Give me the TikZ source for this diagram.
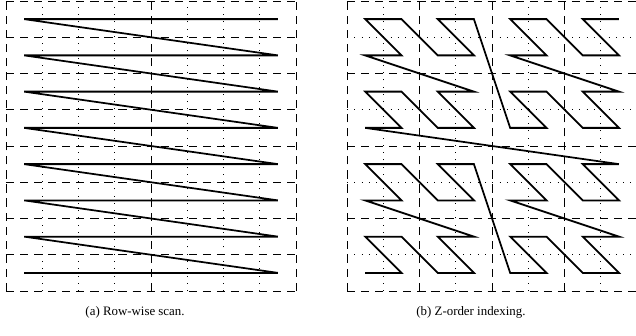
\documentclass[tikz,border=0pt]{standalone}
\usepackage{fontspec}
\setmainfont{Liberation Serif}
\tikzset{
  blockline/.style={line width=0.75pt, dash pattern=on 7pt off 5pt},
  cellline/.style={line width=0.8pt, dash pattern=on 0.8pt off 5.4pt},
  scanpath/.style={line width=1.5pt},
  subcap/.style={font=\fontsize{11}{13}\selectfont, inner sep=0pt}
}

\begin{document}
\begin{tikzpicture}[x=1.0875cm, y=1.0875cm]
  \clip (-0.1655,-1.241) rectangle (17.379,8.0276);

  % (a) row-wise scan
  \foreach \i in {1,2,3,5,6,7}
    \draw[cellline] (\i,0) -- (\i,8);
  \foreach \j in {0,...,8}
    \draw[blockline] (0,\j) -- (8,\j);
  \foreach \i in {0,4,8}
    \draw[blockline] (\i,0) -- (\i,8);
  \foreach \n in {0,...,63} {
    \pgfmathtruncatemacro\rx{mod(\n,8)}
    \pgfmathtruncatemacro\ry{div(\n,8)}
    \coordinate (r\n) at (\rx+0.5,\ry+0.5);
  }
  \draw[scanpath] (r0) \foreach \n in {1,...,63} { -- (r\n) };
  \node[subcap] (capa) at (3.56,-0.58) {(a) Row-wise scan.};

  % (b) z-order
  \begin{scope}[shift={(9.407,0)}]
    \foreach \k in {1,3,5,7} {
      \draw[cellline] (\k,0) -- (\k,8);
      \draw[cellline] (0,\k) -- (8,\k);
    }
    \foreach \k in {0,2,4,6,8} {
      \draw[blockline] (0,\k) -- (8,\k);
      \draw[blockline] (\k,0) -- (\k,8);
    }
    \foreach \n in {0,...,63} {
      \pgfmathtruncatemacro\zx{mod(\n,2)+2*mod(div(\n,4),2)+4*mod(div(\n,16),2)}
      \pgfmathtruncatemacro\zy{mod(div(\n,2),2)+2*mod(div(\n,8),2)+4*mod(div(\n,32),2)}
      \coordinate (z\n) at (\zx+0.5,\zy+0.5);
    }
    \draw[scanpath] (z0) \foreach \n in {1,...,63} { -- (z\n) };
    \node[subcap] (capb) at (3.42,-0.58) {(b) Z-order indexing.};
  \end{scope}
\end{tikzpicture}
\end{document}
